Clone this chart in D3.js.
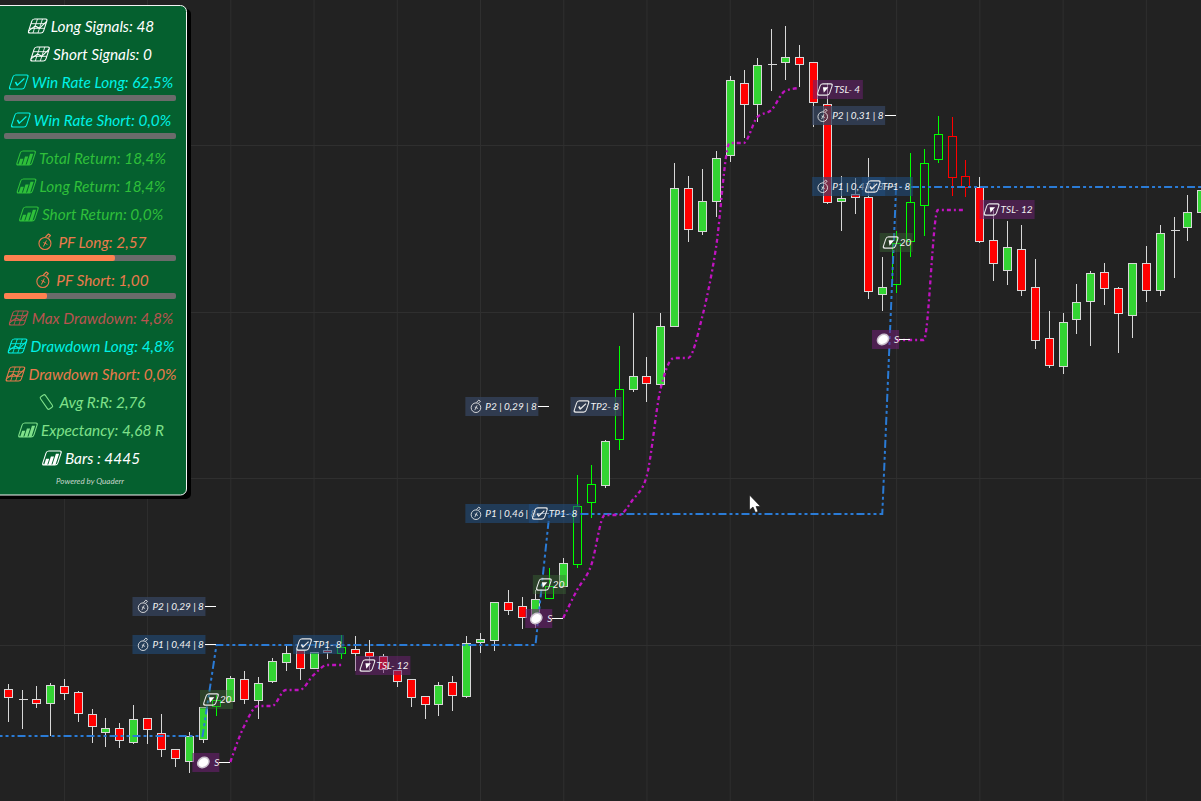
<!DOCTYPE html>
<html>
<head>
<meta charset="utf-8">
<script src="https://cdn.jsdelivr.net/npm/d3@7"></script>
<style>
    html, body { margin: 0; padding: 0; background: #222222; overflow: hidden; }
    svg { display: block; font-family: Lato, "Noto Sans", sans-serif; font-style: italic; }
    .grid line { stroke: #2f2f2f; stroke-width: 1; }
    .grid path { display: none; }
</style>
</head>
<body>
<div id="chart"></div>
<script>
// OHLC (no price axis in the reference, so arbitrary units)
var opens = [112,102,102,98,115,109,87,69,73,59,83,68,52,40,62,95,100,122,101,120,139,151,133,151,148,152,149,145,131,122,105,97,119,105,159,161,199,195,184,203,215,237,299,316,362,412,425,417,475,613,570,600,646,718,697,737,739,744,739,697,600,607,604,507,517,560,596,642,665,625,614,561,531,552,514,463,435,482,500,529,513,486,538,511,571,574,589];
var highs = [117,111,115,118,122,110,92,83,78,96,83,87,52,69,94,106,125,130,124,143,155,151,149,156,166,165,161,147,131,122,105,119,125,165,168,199,211,204,211,233,243,326,336,361,455,488,444,488,638,625,632,650,725,731,743,772,775,756,739,718,625,623,643,544,570,648,652,685,684,641,624,591,580,576,542,490,488,517,530,538,514,538,555,576,584,606,611];
var lows = [79,72,93,65,101,79,58,54,53,57,57,44,34,28,58,85,100,97,82,118,130,121,133,142,142,130,131,128,114,94,82,85,90,103,148,150,186,172,173,203,214,233,283,313,351,409,399,414,474,559,566,584,639,663,679,710,721,714,674,597,570,587,502,490,508,544,565,638,605,604,558,520,516,505,452,433,427,467,455,496,448,463,499,505,523,560,589];
var closes = [104,102,98,116,108,88,75,73,61,82,72,52,43,65,94,101,123,102,118,140,148,133,149,149,154,148,145,132,120,104,97,116,106,158,162,199,191,184,202,215,238,295,317,360,412,425,418,475,613,572,600,643,721,697,736,737,744,737,699,599,603,604,510,514,558,599,638,667,624,614,560,538,554,511,461,436,479,499,528,513,488,538,511,568,571,589,611];

// bars printed hollow by the signal colouring
var hollowBars = [15,24,39,41,42,44,64,65,66,67,68,69];

var gridBars = [4,10,16,22,28,34,40,46,52,58,64,70,76,82];
var gridPrices = [156,323,489,656];

// blue position line
var entryBars = [-1,14,15,38,39,63,64,87];
var entryPrices = [65,65,156,156,287,287,614,614];

// magenta trailing stop, one list per trade
var stopBars1 = [16,17,18,19,20,21,22,23,24];
var stopPrices1 = [39,75,95,95,111,111,126,136,136];
var stopBars2 = [40,41,42,43,44,45,46,47,48,49,50,51,52,53,54,55,56,57];
var stopPrices2 = [183,211,235,286,286,301,324,411,443,443,483,552,658,658,684,691,710,713];
var stopBars3 = [64,65,66,67,68,69];
var stopPrices3 = [461,461,461,591,591,591];

// trade tags on the chart
var tagTexts = ["P2 | 0,29 | 8","P1 | 0,44 | 8","P2 | 0,29 | 8","P1 | 0,46 | 8","P2 | 0,31 | 8","P1 | 0,47 | 8","TP1- 8","TP2- 8","TP1- 8","TP1- 8","TSL- 12","TSL- 4","TSL- 12","20","20","20","S","S","S"];
var tagKinds = ["p","p","p","p","p","p","tp","tp","tp","tp","tsl","tsl","tsl","n","n","n","s","s","s"];
var tagBars = [15,15,39,39,64,64,22,42,39,63,27,59.8,72,15,39,64,16,40,65];
var tagPrices = [194.5,156.5,394.5,287.5,685.5,614.5,156.5,394.5,287.5,614.5,135.5,711.5,591.5,101.5,216.5,558.5,38.5,182.5,461.5];

// stats panel
var panelLabels = ["Long Signals: 48","Short Signals: 0","Win Rate Long: 62,5%","Win Rate Short: 0,0%","Total Return: 18,4%","Long Return: 18,4%","Short Return: 0,0%","PF Long: 2,57","PF Short: 1,00","Max Drawdown: 4,8%","Drawdown Long: 4,8%","Drawdown Short: 0,0%","Avg R:R: 2,76","Expectancy: 4,68 R","Bars : 4445"];
var panelIcons = ["grid","grid","check","check","bars","bars","bars","bag","bag","grid","grid","grid","rr","bars","bars"];
var panelColors = ["#ffffff","#ffffff","#00f2e6","#00f2e6","#2fbf3a","#2fbf3a","#2fbf3a","#ea7a4c","#ea7a4c","#b85450","#00f2e6","#ea7a4c","#7fe08a","#7fe08a","#ffffff"];
var panelBars = [null,null,0,0,null,null,null,0.645,0.25,null,null,null,null,null,null];

var width = 1201, height = 801;

var svg = d3.select("#chart").append("svg")
    .attr("width", width)
    .attr("height", height);

var x = d3.scaleLinear().domain([0, 86]).range([8.4, 1201.3]);
var y = d3.scaleLinear().domain([0, 801]).range([801, 0]);

function px(v) { return Math.round(v) + 0.5; }

// grid through plain axes with long ticks
svg.append("g").attr("class", "grid")
    .attr("transform", "translate(0," + height + ")")
    .call(d3.axisBottom(x).tickValues(gridBars).tickSize(-height).tickFormat(""));
svg.append("g").attr("class", "grid")
    .call(d3.axisLeft(y).tickValues(gridPrices).tickSize(-width).tickFormat(""));

// candles
var bars = opens.map(function(o, i) {
    return { i: i, o: o, h: highs[i], l: lows[i], c: closes[i], hollow: hollowBars.indexOf(i) >= 0 };
});

function wickColor(d) {
    if (!d.hollow) return "#d8d8d8";
    return d.c >= d.o ? "#00ff00" : "#ff0000";
}

var candle = svg.append("g").selectAll("g")
    .data(bars)
    .enter().append("g")
    .attr("shape-rendering", "crispEdges");

candle.append("line")
    .attr("x1", function(d) { return px(x(d.i)); })
    .attr("x2", function(d) { return px(x(d.i)); })
    .attr("y1", function(d) { return y(d.h); })
    .attr("y2", function(d) { return y(Math.max(d.o, d.c)); })
    .attr("stroke", wickColor);
candle.append("line")
    .attr("x1", function(d) { return px(x(d.i)); })
    .attr("x2", function(d) { return px(x(d.i)); })
    .attr("y1", function(d) { return y(Math.min(d.o, d.c)); })
    .attr("y2", function(d) { return y(d.l); })
    .attr("stroke", wickColor);

candle.filter(function(d) { return d.o !== d.c; }).append("rect")
    .attr("x", function(d) { return px(x(d.i)) - 4; })
    .attr("y", function(d) { return px(y(Math.max(d.o, d.c))); })
    .attr("width", 8)
    .attr("height", function(d) { return Math.max(1, Math.abs(y(d.o) - y(d.c))); })
    .attr("fill", function(d) { return d.hollow ? "none" : (d.c > d.o ? "#33d433" : "#ff0000"); })
    .attr("stroke", wickColor);

// doji: just a dash
candle.filter(function(d) { return d.o === d.c; }).append("line")
    .attr("x1", function(d) { return px(x(d.i)) - 4; })
    .attr("x2", function(d) { return px(x(d.i)) + 5; })
    .attr("y1", function(d) { return px(y(d.o)); })
    .attr("y2", function(d) { return px(y(d.o)); })
    .attr("stroke", "#d8d8d8");

// lines
var blueLine = d3.line()
    .x(function(d) { return x(entryBars[d]); })
    .y(function(d) { return y(entryPrices[d]); });

svg.append("path")
    .attr("d", blueLine(d3.range(entryBars.length)))
    .attr("fill", "none")
    .attr("stroke", "#2a7bd6")
    .attr("stroke-width", 2)
    .attr("stroke-dasharray", "8,3,3,3,3,3");

[[stopBars1, stopPrices1], [stopBars2, stopPrices2], [stopBars3, stopPrices3]].forEach(function(s) {
    var stopLine = d3.line()
        .curve(d3.curveMonotoneX)
        .x(function(d) { return x(s[0][d]); })
        .y(function(d) { return y(s[1][d]); });
    svg.append("path")
        .attr("d", stopLine(d3.range(s[0].length)))
        .attr("fill", "none")
        .attr("stroke", "#c013c0")
        .attr("stroke-width", 2.3)
        .attr("stroke-dasharray", "4,3,2,3");
});

// icons, all drawn around 0,0
function drawIcon(g, type, color, s) {
    var ic = g.append("g").attr("fill", "none").attr("stroke", color).attr("stroke-width", 1.1)
        .attr("stroke-linejoin", "round");
    if (type == "bag") {
        ic.attr("transform", "scale(" + s + ")");
        ic.append("circle").attr("cx", -0.5).attr("cy", 1.5).attr("r", 6);
        ic.append("path").attr("d", "M0,-5L3,-8L5,-6.5L3,-4.5");
        ic.append("path").attr("d", "M1,-1.5L-2,4.5M-2,0.5L2,2.5").attr("stroke-width", 1);
        return;
    }
    if (type == "rr") {
        ic.append("rect").attr("x", -3).attr("y", -7.5).attr("width", 6).attr("height", 15).attr("rx", 1.5)
            .attr("transform", "rotate(-35)");
        return;
    }
    if (type == "ball") {
        ic.attr("transform", "rotate(-35)");
        ic.append("ellipse").attr("rx", 6).attr("ry", 4.8).attr("fill", "#ffffff").attr("stroke", "#c9c0cc").attr("stroke-width", 1.5);
        return;
    }
    var w = 7.5 * s, h = 7 * s;
    var sk = ic.append("g").attr("transform", "skewX(-18)");
    sk.append("rect").attr("x", -w).attr("y", -h).attr("width", 2 * w).attr("height", 2 * h).attr("rx", 2);
    if (type == "grid") {
        sk.append("path").attr("stroke-width", 0.8)
            .attr("d", "M" + (-w) + "," + (-h / 3) + "H" + w + "M" + (-w) + "," + (h / 3) + "H" + w +
                "M" + (-w / 3) + "," + (-h) + "V" + h + "M" + (w / 3) + "," + (-h) + "V" + h);
        sk.append("path").attr("d", "M" + (-w) + "," + (h * 0.7) + "L" + (-w / 3) + ",0L" + (w / 3) + "," + (h / 3) + "L" + w + "," + (-h * 0.7));
    } else if (type == "check") {
        sk.append("path").attr("stroke-width", 1.4).attr("d", "M" + (-w * 0.45) + ",0L" + (-w * 0.05) + "," + (h * 0.45) + "L" + (w * 0.6) + "," + (-h * 0.5));
    } else if (type == "bars") {
        sk.append("path").attr("fill", color).attr("stroke", "none")
            .attr("d", "M" + (-w * 0.75) + "," + h + "v" + (-h * 0.9) + "h" + (w * 0.42) + "v" + (h * 0.9) + "z" +
                "M" + (-w * 0.2) + "," + h + "v" + (-h * 1.2) + "h" + (w * 0.42) + "v" + (h * 1.2) + "z" +
                "M" + (w * 0.35) + "," + h + "v" + (-h * 1.6) + "h" + (w * 0.42) + "v" + (h * 1.6) + "z");
    } else if (type == "tri") {
        sk.append("path").attr("fill", "#ffffff").attr("stroke", "none")
            .attr("d", "M" + (-w * 0.45) + "," + (-h * 0.4) + "H" + (w * 0.45) + "L0," + (h * 0.6) + "z");
    }
}

// tags
var tagFill = { p: "rgba(52,66,92,0.78)", tp: "rgba(52,66,92,0.78)", tsl: "rgba(106,32,112,0.55)", n: "rgba(60,110,55,0.42)", s: "rgba(106,32,112,0.6)" };
var tagWidth = { p: 73, tp: 51, tsl: 50, n: 33, s: 27 };
var tagIcon = { p: "bag", tp: "check", tsl: "tri", n: "tri", s: "ball" };

tagTexts.forEach(function(t, i) {
    var kind = tagKinds[i];
    var w = tagWidth[kind];
    if (t == "TSL- 12") w = 55;
    var bx = x(tagBars[i]), by = y(tagPrices[i]);
    var left;
    if (kind == "p") left = bx - 84;
    else if (kind == "s") left = bx - 38;
    else if (kind == "tp") left = bx + 5 - w / 2;
    else left = bx - w / 2;

    var g = svg.append("g").attr("transform", "translate(" + left + "," + by + ")");
    g.append("rect")
        .attr("y", -9.5)
        .attr("width", w)
        .attr("height", 19)
        .attr("fill", (t.indexOf("P1") == 0 || t.indexOf("TP1") == 0) ? "rgba(34,76,124,0.6)" : tagFill[kind]);
    if (kind == "p" || kind == "s") {
        g.append("line").attr("x1", w).attr("x2", w + 11).attr("y1", 0).attr("y2", 0)
            .attr("stroke", "#ffffff").attr("shape-rendering", "crispEdges");
    }
    var ic = g.append("g").attr("transform", "translate(" + (kind == "tsl" ? 12 : 11) + ",0)");
    drawIcon(ic, tagIcon[kind], "#e8e8e8", 0.8);
    g.append("text")
        .attr("x", kind == "s" ? 22 : (kind == "tsl" ? 21 : 20))
        .attr("y", 3.5)
        .attr("fill", "#f2f2f2")
        .attr("font-size", 10)
        .text(t);
});

// stats panel
var panel = svg.append("g");
panel.append("rect").attr("x", -10).attr("y", 9).attr("width", 201).attr("height", 490).attr("rx", 5).attr("fill", "#000000");
panel.append("rect").attr("x", -10).attr("y", 5.5).attr("width", 196.5).attr("height", 489.5).attr("rx", 6)
    .attr("fill", "#05602f").attr("stroke", "#f4f4f4").attr("stroke-width", 1);

var barX = d3.scaleLinear().domain([0, 1]).range([4, 176]);
var rowY = 26;
panelLabels.forEach(function(label, i) {
    var row = panel.append("g").attr("transform", "translate(0," + rowY + ")");
    var txt = row.append("text")
        .attr("y", 5.5)
        .attr("fill", panelColors[i])
        .attr("font-size", 15.4)
        .text(label);
    var tw = txt.node().getComputedTextLength();
    var left = 91 - (tw + 23) / 2;
    txt.attr("x", left + 23);
    var ic = row.append("g").attr("transform", "translate(" + (left + 10) + ",0)");
    drawIcon(ic, panelIcons[i], panelColors[i], 1);

    if (panelBars[i] !== null) {
        row.append("rect").attr("x", barX(0)).attr("y", 13).attr("width", barX(1) - barX(0)).attr("height", 6)
            .attr("rx", 2).attr("fill", "#6b6b6b");
        if (panelBars[i] > 0) {
            row.append("rect").attr("x", barX(0)).attr("y", 13).attr("width", barX(panelBars[i]) - barX(0)).attr("height", 6)
                .attr("rx", 2).attr("fill", "#ff8150");
        }
        rowY += 38;
    } else {
        rowY += 28;
    }
});

panel.append("text")
    .attr("x", 90)
    .attr("y", 484)
    .attr("text-anchor", "middle")
    .attr("font-size", 8)
    .attr("fill", "#c5d6cb")
    .text("Powered by Quaderr");

// mouse pointer left on the screenshot
svg.append("path")
    .attr("transform", "translate(749.5,495)")
    .attr("d", "M0,0V15L3.5,12L6,17.5L8.5,16.5L6.5,11.5H11z")
    .attr("fill", "#ffffff")
    .attr("stroke", "#111111")
    .attr("stroke-width", 0.6);
</script>
</body>
</html>
